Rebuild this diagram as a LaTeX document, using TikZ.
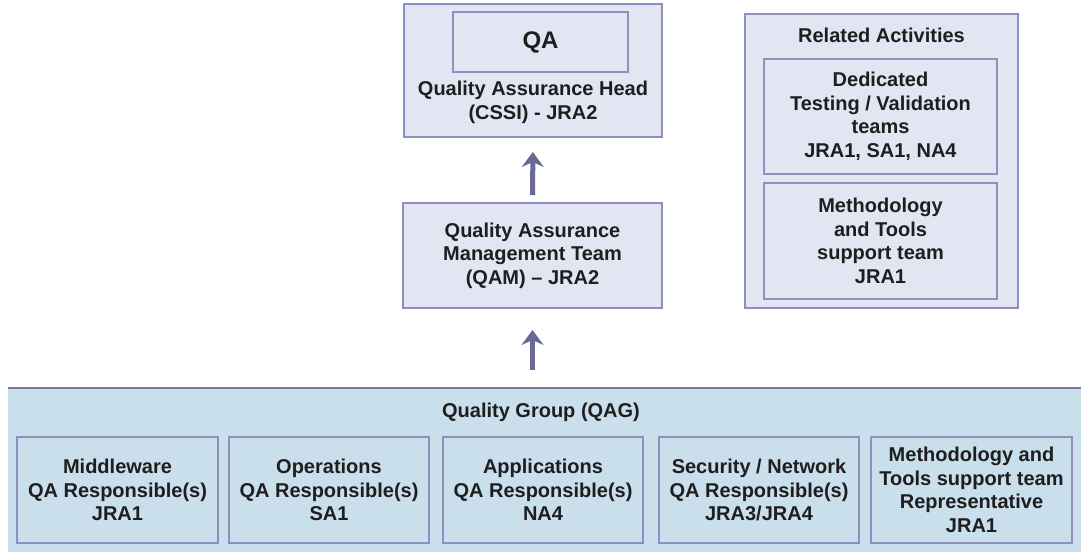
\documentclass[tikz,border=0pt]{standalone}
\usepackage{fontspec}
\setmainfont{Liberation Sans}
\usetikzlibrary{arrows.meta}
\definecolor{boxfill}{HTML}{E2E6F3}
\definecolor{boxline}{HTML}{8E8FBE}
\definecolor{bandfill}{HTML}{CADFEC}
\definecolor{bandline}{HTML}{7A7AA6}
\definecolor{arrowc}{HTML}{6A6996}
\definecolor{txt}{HTML}{1E1E1E}
\begin{document}
\begin{tikzpicture}[x=1pt,y=-1pt,
  every node/.style={inner sep=0pt, outer sep=0pt, text=txt, align=center,
    font=\fontsize{20}{23.5}\selectfont\bfseries},
  box/.style={draw=boxline, line width=1.3pt, fill=boxfill},
  bandbox/.style={draw=boxline, line width=1.3pt, fill=bandfill},
  arr/.style={draw=arrowc, line width=5pt, -{Stealth[length=15pt,width=22pt,inset=5pt]}}]
\useasboundingbox (0,0) rectangle (1081,558);

% top: QA head
\node[box, minimum width=258pt, minimum height=133pt] (head) at (533,70.5) {};
\node[box, minimum width=175pt, minimum height=60pt] (qa) at (540.5,42) {\fontsize{24}{28}\selectfont\bfseries QA};
\node (headtxt) at (533,102.5) {Quality Assurance Head\\(CSSI) - JRA2};

% QAM
\node[box, minimum width=259pt, minimum height=105pt] (qam) at (532.5,255.5)
  {Quality Assurance\\Management Team\\(QAM) -- JRA2};

% related activities
\node[box, minimum width=273pt, minimum height=294pt] (ra) at (881.5,161) {};
\node (ratitle) at (881.5,35) {Related Activities};
\node[box, minimum width=233pt, minimum height=115pt] (ded) at (880.5,116.5)
  {Dedicated\\Testing / Validation\\teams\\JRA1, SA1, NA4};
\node[box, minimum width=233pt, minimum height=116pt] (meth) at (880.5,241)
  {Methodology\\and Tools\\support team\\JRA1};

% bottom band
\node[fill=bandfill, minimum width=1073pt, minimum height=164pt] (band) at (544.5,470) {};
\draw[bandline, line width=1.5pt] (band.north west) -- (band.north east);
\node (qag) at (541,412) {Quality Group (QAG)};
\node[bandbox, minimum width=201pt, minimum height=106pt] (b1) at (117.5,490)
  {Middleware\\QA Responsible(s)\\JRA1};
\node[bandbox, minimum width=200pt, minimum height=106pt] (b2) at (329,490)
  {Operations\\QA Responsible(s)\\SA1};
\node[bandbox, minimum width=200pt, minimum height=106pt] (b3) at (543,490)
  {Applications\\QA Responsible(s)\\NA4};
\node[bandbox, minimum width=200pt, minimum height=106pt] (b4) at (759,490)
  {Security / Network\\QA Responsible(s)\\JRA3/JRA4};
\node[bandbox, minimum width=201pt, minimum height=106pt] (b5) at (971.5,490)
  {Methodology and\\Tools support team\\Representative\\JRA1};

% arrows
\draw[arr, shorten <=8pt, shorten >=15pt] (qam.north) -- (head.south);
\coordinate (a2) at (qam.south |- band.north);
\draw[arr, shorten <=18pt, shorten >=22pt] (a2) -- (qam.south);
\end{tikzpicture}
\end{document}
